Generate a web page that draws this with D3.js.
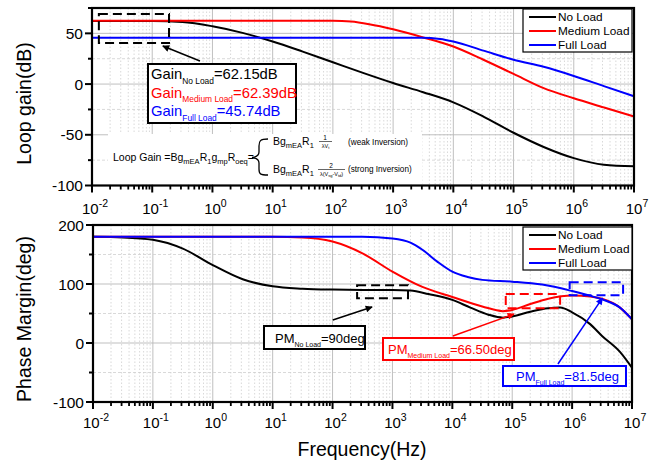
<!DOCTYPE html>
<html>
<head>
<meta charset="utf-8">
<script src="https://cdn.jsdelivr.net/npm/d3@7/dist/d3.min.js"></script>
<style>
  body { margin: 0; background: #fff; }
  svg { display: block; font-family: "Liberation Sans", Arial, sans-serif; }
</style>
</head>
<body>
<svg id="chart" width="656" height="465"></svg>
<script>
// ---- data -------------------------------------------------------------
const seriesNames  = ["No Load", "Medium Load", "Full Load"];
const seriesColors = ["#000000", "#ff0000", "#0000ff"];
const tickExponents = [-2, -1, 0, 1, 2, 3, 4, 5, 6, 7];
const gainTicks  = [-100, -50, 0, 50];
const gainMinor  = [-75, -25, 25, 75];
const phaseTicks = [-100, 0, 100, 200];
const phaseMinor = [-50, 50, 150];

// loop gain (dB) vs frequency (Hz)
const gainNoLoad = [[0.01,62.15],[0.1,62.1],[0.316,61.2],[1,57],[3.16,50.5],[10,42],[31.6,32],[100,21.5],
  [316,11],[1000,1],[3160,-8],[1e4,-18],[3.16e4,-32],[1e5,-48],[3.16e5,-62],[1e6,-73],[3.16e6,-79.5],[1e7,-81]];
const gainMedium = [[0.01,62.39],[100,62.39],[200,61.6],[400,59],[1000,54],[3160,46],[1e4,37],[3.16e4,24],
  [1e5,10],[3.16e5,-4],[1e6,-14],[3.16e6,-23],[1e7,-32]];
const gainFull = [[0.01,45.74],[3000,45.6],[6000,44.5],[1e4,42],[3.16e4,33],[1e5,24],[3.16e5,17],
  [1e6,8],[3.16e6,-2],[1e7,-12]];

// phase (deg) vs frequency (Hz)
const phaseNoLoad = [[0.01,180],[0.0316,179],[0.1,175],[0.316,160],[1,132],[3.16,108],[10,96],[31.6,92],
  [100,90.5],[316,90],[1000,90],[2000,89],[4000,83],[1e4,73],[2e4,60],[4e4,48],[7e4,43],[1e5,45],
  [2e5,53],[4e5,59],[6.3e5,60],[1e6,52],[2e6,32],[3.16e6,12],[6.3e6,-15],[1e7,-42]];
const phaseMedium = [[0.01,180],[10,180],[31.6,179],[100,172],[316,152],[1000,121],[3160,95],[1e4,78],
  [3.16e4,62],[7e4,54],[1e5,56],[2e5,66],[4e5,75],[1e6,80.5],[2e6,79],[3.16e6,75],[6.3e6,60],[1e7,40]];
const phaseFull = [[0.01,180],[316,180],[1000,177],[2000,170],[3160,158],[5600,138],[1e4,121],[1.8e4,112],
  [3.16e4,107],[1e5,104],[3.16e5,99],[1e6,88],[2e6,80],[3.16e6,74],[6.3e6,60],[1e7,40]];

const gainSeries  = [gainNoLoad, gainMedium, gainFull];
const phaseSeries = [phaseNoLoad, phaseMedium, phaseFull];

// ---- scales -----------------------------------------------------------
const xGain  = d3.scaleLog().domain([1e-2, 1e7]).range([92, 634]);
const yGain  = d3.scaleLinear().domain([-100, 75]).range([185.5, 8]);
const xPhase = d3.scaleLog().domain([1e-2, 1e7]).range([93, 632]);
const yPhase = d3.scaleLinear().domain([-100, 200]).range([402, 225]);

const svg = d3.select("#chart");

// arrow heads
const defs = svg.append("defs");
seriesColors.forEach((c, i) => {
  defs.append("marker").attr("id", "arrow" + i)
    .attr("viewBox", "0 0 10 10").attr("refX", 9).attr("refY", 5)
    .attr("markerWidth", 9).attr("markerHeight", 7).attr("markerUnits", "userSpaceOnUse")
    .attr("orient", "auto")
    .append("path").attr("d", "M0,0L10,5L0,10z").attr("fill", c);
});

const minorFreqs = [];
for (let e = -2; e < 7; e++) for (let m = 2; m <= 9; m++) minorFreqs.push(m * Math.pow(10, e));

function drawPanel(x, y, majors, minors, labelBaseline) {
  const g = svg.append("g");
  const [x0, x1] = x.range();
  const [y1, y0] = y.range();
  // grid
  g.selectAll(".vmin").data(minorFreqs).join("line")
    .attr("x1", d => x(d)).attr("x2", d => x(d)).attr("y1", y0).attr("y2", y1)
    .attr("stroke", "#cfcfcf").attr("stroke-width", 0.8).attr("stroke-dasharray", "1.5,2");
  g.selectAll(".vmaj").data(tickExponents.slice(1, -1)).join("line")
    .attr("x1", d => x(Math.pow(10, d))).attr("x2", d => x(Math.pow(10, d))).attr("y1", y0).attr("y2", y1)
    .attr("stroke", "#b8b8b8").attr("stroke-width", 0.9);
  g.selectAll(".hmin").data(minors).join("line")
    .attr("x1", x0).attr("x2", x1).attr("y1", d => y(d)).attr("y2", d => y(d))
    .attr("stroke", "#cfcfcf").attr("stroke-width", 0.8).attr("stroke-dasharray", "3,2");
  g.selectAll(".hmaj").data(majors.filter(d => d > y.domain()[0] && d < y.domain()[1])).join("line")
    .attr("x1", x0).attr("x2", x1).attr("y1", d => y(d)).attr("y2", d => y(d))
    .attr("stroke", "#b8b8b8").attr("stroke-width", 0.9);

  // bottom axis: major + minor ticks pointing out
  const axisG = svg.append("g");
  axisG.selectAll(".xt").data(tickExponents).join("line")
    .attr("x1", d => x(Math.pow(10, d))).attr("x2", d => x(Math.pow(10, d)))
    .attr("y1", y1).attr("y2", y1 + 7).attr("stroke", "#000").attr("stroke-width", 2);
  axisG.selectAll(".xm").data(minorFreqs).join("line")
    .attr("x1", d => x(d)).attr("x2", d => x(d))
    .attr("y1", y1).attr("y2", y1 + 4).attr("stroke", "#000").attr("stroke-width", 1.8);
  const lab = axisG.selectAll(".xl").data(tickExponents).join("text")
    .attr("x", d => x(Math.pow(10, d)) + 3).attr("y", labelBaseline)
    .attr("text-anchor", "middle").attr("font-size", 15).attr("fill", "#000");
  lab.append("tspan").text("10");
  lab.append("tspan").attr("dy", -7).attr("font-size", 10.5).text(d => d < 0 ? "-" + (-d) : d);

  // left axis ticks
  axisG.selectAll(".yt").data(majors).join("line")
    .attr("x1", x0 - 7).attr("x2", x0).attr("y1", d => y(d)).attr("y2", d => y(d))
    .attr("stroke", "#000").attr("stroke-width", 2);
  axisG.selectAll(".ym").data(minors).join("line")
    .attr("x1", x0 - 4).attr("x2", x0).attr("y1", d => y(d)).attr("y2", d => y(d))
    .attr("stroke", "#000").attr("stroke-width", 2);
  axisG.selectAll(".yl").data(majors).join("text")
    .attr("x", x0 - 9).attr("y", d => y(d)).attr("dy", "0.36em")
    .attr("text-anchor", "end").attr("font-size", 15.5).attr("fill", "#000")
    .text(d => d);
  return axisG;
}

function drawFrame(x, y) {
  const [x0, x1] = x.range();
  const [y1, y0] = y.range();
  svg.append("rect").attr("x", x0).attr("y", y0).attr("width", x1 - x0).attr("height", y1 - y0)
    .attr("fill", "none").attr("stroke", "#000").attr("stroke-width", 2.2);
}

function drawCurves(x, y, series) {
  const line = d3.line().x(d => x(d[0])).y(d => y(d[1])).curve(d3.curveMonotoneX);
  svg.append("g").selectAll("path").data(series).join("path")
    .attr("d", line).attr("fill", "none")
    .attr("stroke", (d, i) => seriesColors[i]).attr("stroke-width", 2);
}

function drawLegend(left, top) {
  const g = svg.append("g");
  g.append("rect").attr("x", left).attr("y", top).attr("width", 109).attr("height", 43)
    .attr("fill", "#fff").attr("stroke", "#000").attr("stroke-width", 1.2);
  seriesNames.forEach((n, i) => {
    const cy = top + 8 + i * 14;
    g.append("line").attr("x1", left + 6).attr("x2", left + 33).attr("y1", cy).attr("y2", cy)
      .attr("stroke", seriesColors[i]).attr("stroke-width", 2);
    g.append("text").attr("x", left + 35).attr("y", cy + 4.3).attr("font-size", 11.8)
      .attr("fill", "#000").text(n);
  });
}

// rich text: parts are [string, mode] with mode 0 normal, 1 subscript
function richText(x, y, parts, size, subSize, color, anchor) {
  const t = svg.append("text").attr("x", x).attr("y", y).attr("font-size", size)
    .attr("fill", color).attr("text-anchor", anchor || "start");
  let cur = 0;
  parts.forEach(([s, mode]) => {
    const target = mode === 1 ? size * 0.32 : 0;
    const ts = t.append("tspan").attr("dy", target - cur).text(s);
    if (mode === 1) ts.attr("font-size", subSize);
    cur = target;
  });
  return t;
}

function dashedBox(x, y, f0, f1, v0, v1, color) {
  svg.append("rect")
    .attr("x", x(f0)).attr("y", y(v1)).attr("width", x(f1) - x(f0)).attr("height", y(v0) - y(v1))
    .attr("fill", "none").attr("stroke", color).attr("stroke-width", 2).attr("stroke-dasharray", "9,5");
}

function arrow(x, y, from, to, i) {
  svg.append("line")
    .attr("x1", x(from[0])).attr("y1", y(from[1])).attr("x2", x(to[0])).attr("y2", y(to[1]))
    .attr("stroke", seriesColors[i]).attr("stroke-width", 1.5).attr("marker-end", `url(#arrow${i})`);
}

function labelBox(x0, y0, w, h, color) {
  svg.append("rect").attr("x", x0).attr("y", y0).attr("width", w).attr("height", h)
    .attr("fill", "#fff").attr("stroke", color).attr("stroke-width", 2);
}

// ---- loop gain panel ---------------------------------------------------
drawPanel(xGain, yGain, gainTicks, gainMinor, 213.5);

// formula backdrop
svg.append("rect").attr("x", 108).attr("y", 134).attr("width", 314).attr("height", 50).attr("fill", "#fff");

drawCurves(xGain, yGain, gainSeries);
drawFrame(xGain, yGain);
drawLegend(523, 9);

dashedBox(xGain, yGain, 0.013, 0.19, 40.5, 69, "#000");
arrow(xGain, yGain, [0.62, 22.8], [0.15, 37.5], 0);

labelBox(148, 64, 148, 59, "#000");
const gainLabels = [["No Load", "=62.15dB"], ["Medium Load", "=62.39dB"], ["Full Load", "=45.74dB"]];
gainLabels.forEach(([sub, val], i) => {
  richText(151, 79 + i * 18.5, [["Gain", 0], [sub, 1], [val, 0]], 14.8, 8.4, seriesColors[i]);
});

// loop gain expression
richText(113, 160.5, [["Loop Gain =Bg", 0], ["mEA", 1], ["R", 0], ["1", 1], ["g", 0], ["mp", 1],
  ["R", 0], ["oeq", 1], ["=", 0]], 10.5, 7.5, "#000");
svg.append("path")
  .attr("d", "M268,139 C260,139 259,141 259,146 L259,152 C259,156 256,157 252,157.5 C256,158 259,159 259,163 L259,169 C259,174 260,175 268,175")
  .attr("fill", "none").attr("stroke", "#000").attr("stroke-width", 1.3);
richText(273, 145, [["Bg", 0], ["mEA", 1], ["R", 0], ["1", 1]], 10.5, 7.5, "#000");
richText(273, 173, [["Bg", 0], ["mEA", 1], ["R", 0], ["1", 1]], 10.5, 7.5, "#000");
// fractions
svg.append("text").attr("x", 325).attr("y", 140).attr("font-size", 6.5).attr("text-anchor", "middle").text("1");
svg.append("line").attr("x1", 319).attr("x2", 332).attr("y1", 141.5).attr("y2", 141.5).attr("stroke", "#000").attr("stroke-width", 0.6);
richText(325.5, 147.5, [["λV", 0], ["t", 1]], 5.5, 4, "#000", "middle");
svg.append("text").attr("x", 331).attr("y", 168).attr("font-size", 6.5).attr("text-anchor", "middle").text("2");
svg.append("line").attr("x1", 318).attr("x2", 345).attr("y1", 169.5).attr("y2", 169.5).attr("stroke", "#000").attr("stroke-width", 0.6);
richText(331.5, 175.5, [["λ(V", 0], ["sg", 1], ["-V", 0], ["td", 1], [")", 0]], 5.5, 4, "#000", "middle");
svg.append("text").attr("x", 348).attr("y", 144.5).attr("font-size", 8.2).text("(weak Inversion)");
svg.append("text").attr("x", 348).attr("y", 171.5).attr("font-size", 8.2).text("(strong Inversion)");

// ---- phase panel -------------------------------------------------------
drawPanel(xPhase, yPhase, phaseTicks, phaseMinor, 428);
drawCurves(xPhase, yPhase, phaseSeries);
drawFrame(xPhase, yPhase);
drawLegend(523, 227);

dashedBox(xPhase, yPhase, 257, 1820, 76, 98, "#000");
dashedBox(xPhase, yPhase, 7.8e4, 6.3e5, 59, 83, "#ff0000");
dashedBox(xPhase, yPhase, 9.1e5, 7.1e6, 81, 103, "#0000ff");

arrow(xPhase, yPhase, [101, 39], [457, 61], 0);
arrow(xPhase, yPhase, [1.02e4, 12], [1.07e5, 49], 1);
arrow(xPhase, yPhase, [5.8e5, -35.6], [3.2e6, 76], 2);

labelBox(264, 326, 101, 23, "#000");
richText(275, 342.5, [["PM", 0], ["No Load", 1], ["=90deg", 0]], 13, 7, "#000");
labelBox(383, 338, 131, 22, "#ff0000");
richText(388, 354, [["PM", 0], ["Medium Load", 1], ["=66.50deg", 0]], 13, 7, "#ff0000");
labelBox(503, 366, 123, 20, "#0000ff");
richText(516, 381, [["PM", 0], ["Full Load", 1], ["=81.5deg", 0]], 13, 7, "#0000ff");

// ---- axis titles -------------------------------------------------------
svg.append("text").attr("transform", "translate(31,103.5) rotate(-90)")
  .attr("text-anchor", "middle").attr("font-size", 19.5).text("Loop gain(dB)");
svg.append("text").attr("transform", "translate(31,319) rotate(-90)")
  .attr("text-anchor", "middle").attr("font-size", 19.5).text("Phase Margin(deg)");
svg.append("text").attr("x", 362).attr("y", 456).attr("text-anchor", "middle")
  .attr("font-size", 19.5).text("Frequency(Hz)");
</script>
</body>
</html>
